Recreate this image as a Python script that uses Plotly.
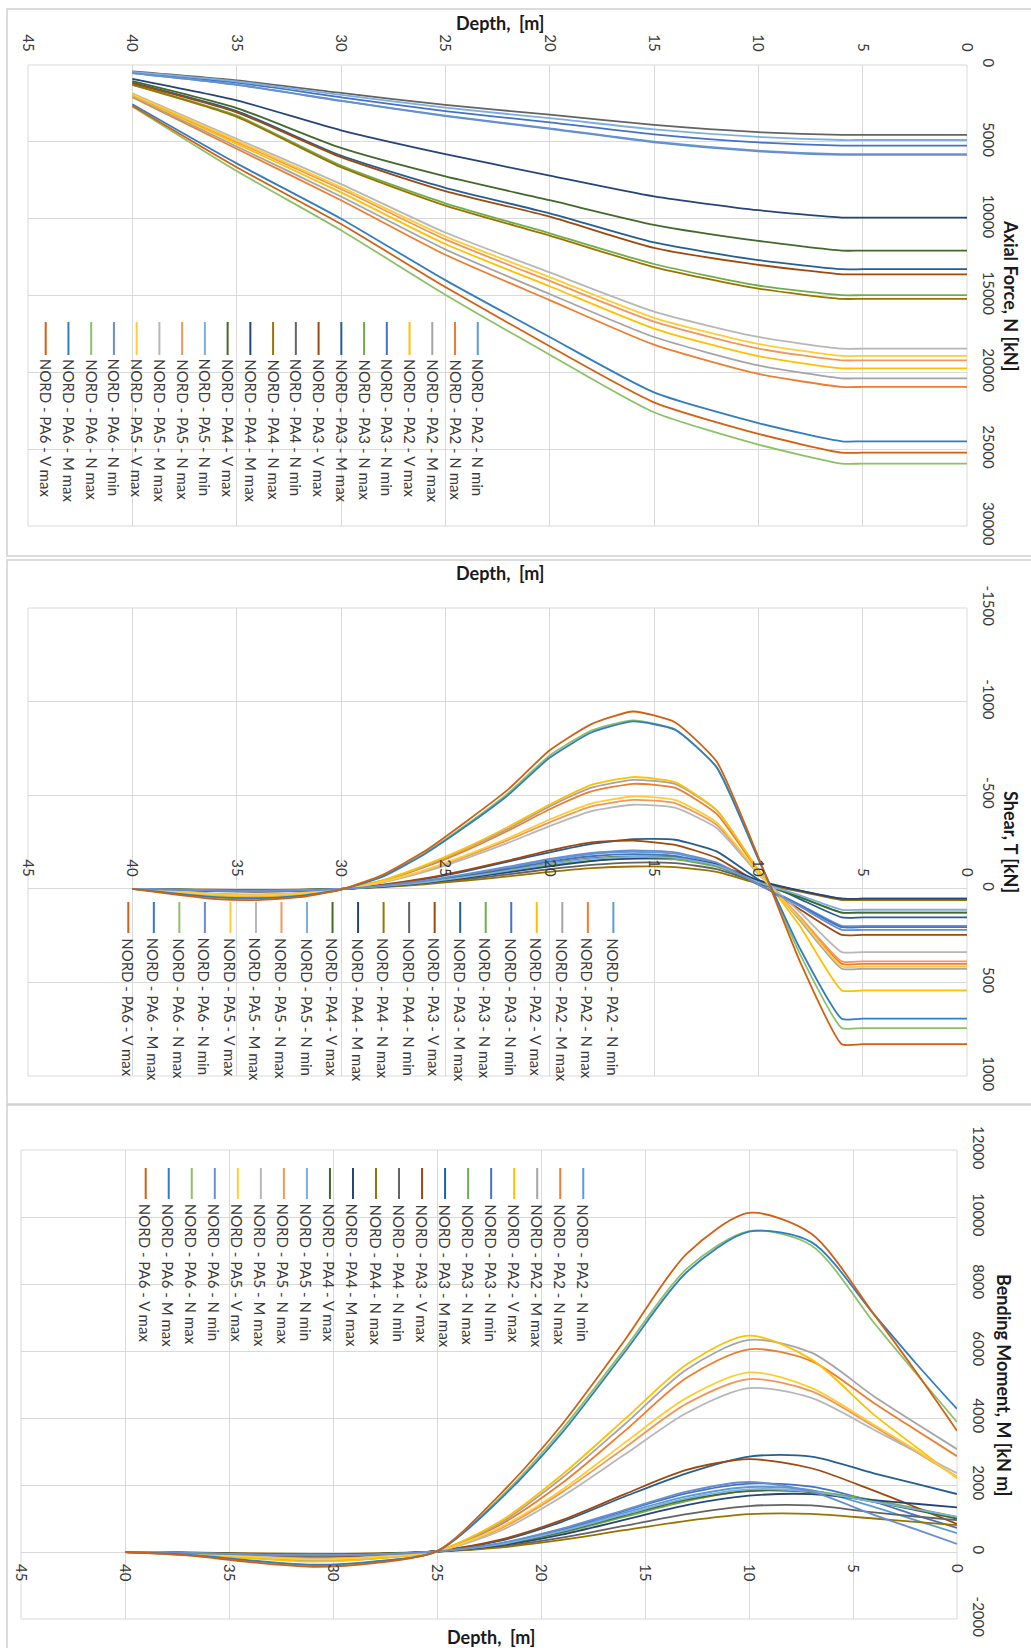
import plotly.graph_objects as go

W, H = 1031, 1648

# ---------------------------------------------------------------- series
SERIES = [
    "NORD - PA2 - N min", "NORD - PA2 - N max", "NORD - PA2 - M max", "NORD - PA2 - V max",
    "NORD - PA3 - N min", "NORD - PA3 - N max", "NORD - PA3 - M max", "NORD - PA3 - V max",
    "NORD - PA4 - N min", "NORD - PA4 - N max", "NORD - PA4 - M max", "NORD - PA4 - V max",
    "NORD - PA5 - N min", "NORD - PA5 - N max", "NORD - PA5 - M max", "NORD - PA5 - V max",
    "NORD - PA6 - N min", "NORD - PA6 - N max", "NORD - PA6 - M max", "NORD - PA6 - V max",
]
COLORS = [
    "#5B9BD5", "#ED7D31", "#A5A5A5", "#FFC000", "#4472C4", "#70AD47", "#255E91", "#9E480E",
    "#636363", "#997300", "#264478", "#43682B", "#7CAFDD", "#F1975A", "#B7B7B7", "#FFCD33",
    "#698ED0", "#8CC168", "#327DC2", "#D26012",
]

# ---------------------------------------------------------------- axial force N [kN]
AX_DEPTH = [40, 35, 30, 25, 20, 15, 10, 6, 5, 0]
AX_PA2_NMIN = [520, 1280, 2320, 3300, 4120, 4990, 5570, 5800, 5800, 5800]
AX_PA2_NMAX = [2100, 5450, 8800, 12350, 15300, 18200, 20100, 20950, 20950, 20950]
AX_PA2_MMAX = [2040, 5300, 8560, 12000, 14900, 17700, 19550, 20390, 20390, 20390]
AX_PA2_VMAX = [1970, 5130, 8290, 11650, 14400, 17150, 18950, 19740, 19740, 19740]
AX_PA3_NMIN = [480, 1150, 2100, 3000, 3730, 4510, 5040, 5250, 5250, 5250]
AX_PA3_NMAX = [1280, 3300, 6550, 9000, 10950, 12950, 14350, 14980, 14980, 14980]
AX_PA3_MMAX = [1150, 3000, 5900, 8000, 9650, 11550, 12700, 13290, 13290, 13290]
AX_PA3_VMAX = [1200, 3080, 6000, 8200, 9870, 11900, 13000, 13620, 13620, 13620]
AX_PA4_NMIN = [420, 1000, 1820, 2600, 3230, 3900, 4370, 4550, 4550, 4550]
AX_PA4_NMAX = [1300, 3380, 6650, 9150, 11100, 13150, 14550, 15220, 15220, 15220]
AX_PA4_MMAX = [900, 2300, 4250, 5800, 7200, 8550, 9450, 9930, 9930, 9930]
AX_PA4_VMAX = [1050, 2800, 5400, 7250, 8800, 10400, 11450, 12080, 12080, 12080]
AX_PA5_NMIN = [450, 1070, 1950, 2780, 3460, 4190, 4680, 4880, 4880, 4880]
AX_PA5_NMAX = [1920, 5000, 8070, 11350, 14050, 16700, 18450, 19220, 19220, 19220]
AX_PA5_MMAX = [1850, 4800, 7750, 10900, 13500, 16050, 17700, 18460, 18460, 18460]
AX_PA5_VMAX = [1900, 4920, 7950, 11150, 13800, 16450, 18150, 18930, 18930, 18930]
AX_PA6_NMIN = [530, 1290, 2340, 3330, 4150, 5030, 5620, 5850, 5850, 5850]
AX_PA6_NMAX = [2700, 6900, 10750, 14950, 18850, 22600, 24700, 25940, 25940, 25940]
AX_PA6_MMAX = [2550, 6400, 10000, 14000, 17700, 21300, 23300, 24490, 24490, 24490]
AX_PA6_VMAX = [2650, 6650, 10350, 14450, 18300, 21950, 24000, 25230, 25230, 25230]

# ---------------------------------------------------------------- shear T [kN]
SH_DEPTH = [40, 38, 36, 34, 32, 30, 28, 26, 24, 22, 20, 18, 16, 14, 12, 10, 8, 6, 5, 0]
SH_PA2_NMIN = [0, 5, 10, 12, 9, 1, -16, -41, -75, -113, -155, -186, -198, -188, -135, -25, 85, 198, 198, 198]
SH_PA2_NMAX = [0, 18, 34, 40, 28, 3, -42, -115, -205, -310, -425, -520, -561, -540, -400, -95, 160, 401, 401, 401]
SH_PA2_MMAX = [0, 18, 34, 40, 28, 3, -45, -120, -215, -320, -440, -540, -582, -560, -420, -100, 170, 427, 427, 427]
SH_PA2_VMAX = [0, 20, 38, 45, 32, 3, -45, -125, -220, -330, -450, -555, -597, -570, -420, -100, 200, 543, 543, 543]
SH_PA3_NMIN = [0, 5, 9, 11, 8, 1, -15, -38, -70, -106, -145, -174, -185, -176, -127, -22, 88, 205, 205, 205]
SH_PA3_NMAX = [0, 4, 8, 10, 7, 1, -13, -33, -60, -92, -125, -151, -160, -157, -118, -30, 45, 127, 127, 127]
SH_PA3_MMAX = [0, 6, 12, 15, 11, 1, -20, -52, -95, -145, -195, -240, -265, -262, -200, -50, 55, 153, 153, 153]
SH_PA3_VMAX = [0, 6, 12, 15, 11, 1, -22, -55, -100, -150, -205, -248, -257, -235, -165, -30, 110, 246, 246, 246]
SH_PA4_NMIN = [0, 3, 6, 8, 6, 1, -11, -28, -51, -77, -105, -128, -140, -137, -105, -35, 10, 53, 53, 53]
SH_PA4_NMAX = [0, 3, 5, 6, 5, 1, -9, -24, -44, -66, -90, -110, -119, -116, -90, -28, 15, 60, 60, 60]
SH_PA4_MMAX = [0, 4, 7, 9, 6, 1, -12, -32, -58, -88, -120, -148, -162, -165, -130, -45, 10, 53, 53, 53]
SH_PA4_VMAX = [0, 4, 8, 10, 7, 1, -14, -36, -66, -99, -135, -163, -173, -168, -125, -32, 45, 127, 127, 127]
SH_PA5_NMIN = [0, 4, 8, 10, 7, 1, -14, -35, -64, -97, -133, -160, -170, -165, -125, -35, 35, 112, 112, 112]
SH_PA5_NMAX = [0, 15, 30, 35, 25, 2, -36, -96, -173, -260, -355, -440, -475, -458, -342, -82, 150, 388, 388, 388]
SH_PA5_MMAX = [0, 13, 26, 30, 22, 2, -34, -90, -163, -245, -335, -415, -449, -433, -325, -78, 125, 338, 338, 338]
SH_PA5_VMAX = [0, 15, 30, 35, 25, 2, -38, -100, -180, -270, -370, -455, -493, -475, -355, -85, 160, 415, 415, 415]
SH_PA6_NMIN = [0, 5, 10, 12, 9, 1, -17, -43, -78, -118, -160, -192, -205, -195, -140, -25, 95, 219, 219, 219]
SH_PA6_NMAX = [0, 26, 47, 52, 40, 4, -68, -190, -342, -510, -712, -845, -900, -852, -648, -158, 350, 744, 744, 744]
SH_PA6_MMAX = [0, 25, 45, 50, 38, 4, -65, -185, -335, -500, -700, -835, -894, -850, -650, -160, 320, 694, 694, 694]
SH_PA6_VMAX = [0, 30, 55, 60, 45, 5, -75, -200, -360, -530, -740, -880, -947, -890, -680, -170, 390, 830, 830, 830]

# ---------------------------------------------------------------- bending moment M [kN m]
BM_DEPTH = [40, 37, 34, 31, 28, 25, 22, 19, 16, 13, 10, 7, 4, 2, 0]
BM_PA2_NMIN = [0, -30, -70, -100, -70, 20, 240, 650, 1170, 1660, 1940, 1850, 1350, 950, 560]
BM_PA2_NMAX = [0, -50, -170, -270, -190, 25, 800, 2050, 3600, 5200, 6050, 5700, 4450, 3650, 2860]
BM_PA2_MMAX = [0, -50, -170, -270, -190, 25, 850, 2200, 3800, 5450, 6330, 5950, 4650, 3850, 3070]
BM_PA2_VMAX = [0, -60, -190, -290, -200, 30, 900, 2300, 3950, 5600, 6460, 5750, 4100, 3150, 2200]
BM_PA3_NMIN = [0, -30, -75, -105, -75, 20, 250, 680, 1230, 1750, 2040, 1950, 1500, 1100, 720]
BM_PA3_NMAX = [0, -25, -65, -90, -65, 15, 210, 570, 1050, 1520, 1830, 1820, 1550, 1300, 1050]
BM_PA3_MMAX = [0, -40, -100, -140, -100, 30, 330, 900, 1650, 2350, 2850, 2850, 2350, 2040, 1730]
BM_PA3_VMAX = [0, -40, -100, -140, -100, 30, 360, 950, 1720, 2450, 2770, 2500, 1830, 1340, 840]
BM_PA4_NMIN = [0, -20, -50, -70, -50, 10, 160, 430, 780, 1130, 1370, 1390, 1180, 1060, 950]
BM_PA4_NMAX = [0, -15, -40, -60, -40, 10, 130, 360, 650, 930, 1130, 1140, 1000, 900, 800]
BM_PA4_MMAX = [0, -25, -60, -85, -60, 15, 190, 520, 960, 1400, 1680, 1730, 1550, 1440, 1330]
BM_PA4_VMAX = [0, -25, -65, -90, -65, 15, 220, 600, 1090, 1560, 1820, 1780, 1500, 1250, 1000]
BM_PA5_NMIN = [0, -30, -70, -95, -70, 20, 230, 620, 1120, 1600, 1870, 1800, 1500, 1280, 1050]
BM_PA5_NMAX = [0, -40, -130, -210, -150, 20, 680, 1780, 3100, 4430, 5160, 4800, 3750, 3000, 2250]
BM_PA5_MMAX = [0, -40, -120, -200, -140, 20, 620, 1650, 2900, 4150, 4890, 4600, 3650, 3000, 2350]
BM_PA5_VMAX = [0, -40, -140, -220, -150, 20, 720, 1850, 3250, 4600, 5360, 4900, 3800, 3050, 2230]
BM_PA6_NMIN = [0, -30, -80, -110, -80, 20, 260, 700, 1250, 1800, 2090, 1800, 1110, 680, 240]
BM_PA6_NMAX = [0, -90, -270, -400, -300, 25, 1600, 3650, 6050, 8450, 9580, 9150, 6850, 5350, 3880]
BM_PA6_MMAX = [0, -80, -250, -380, -280, 20, 1550, 3550, 5950, 8350, 9560, 9250, 7100, 5650, 4270]
BM_PA6_VMAX = [0, -100, -300, -440, -330, 30, 1700, 3800, 6300, 8900, 10120, 9500, 7100, 5400, 3620]

# ---------------------------------------------------------------- tick labels
DEPTH_TICKS = [0, 5, 10, 15, 20, 25, 30, 35, 40, 45]
AX_TICKS = [0, 5000, 10000, 15000, 20000, 25000, 30000]
SH_TICKS = [-1500, -1000, -500, 0, 500, 1000]
BM_TICKS = [-2000, 0, 2000, 4000, 6000, 8000, 10000, 12000]

AXIAL = [AX_PA2_NMIN, AX_PA2_NMAX, AX_PA2_MMAX, AX_PA2_VMAX, AX_PA3_NMIN, AX_PA3_NMAX, AX_PA3_MMAX,
         AX_PA3_VMAX, AX_PA4_NMIN, AX_PA4_NMAX, AX_PA4_MMAX, AX_PA4_VMAX, AX_PA5_NMIN, AX_PA5_NMAX,
         AX_PA5_MMAX, AX_PA5_VMAX, AX_PA6_NMIN, AX_PA6_NMAX, AX_PA6_MMAX, AX_PA6_VMAX]
SHEAR = [SH_PA2_NMIN, SH_PA2_NMAX, SH_PA2_MMAX, SH_PA2_VMAX, SH_PA3_NMIN, SH_PA3_NMAX, SH_PA3_MMAX,
         SH_PA3_VMAX, SH_PA4_NMIN, SH_PA4_NMAX, SH_PA4_MMAX, SH_PA4_VMAX, SH_PA5_NMIN, SH_PA5_NMAX,
         SH_PA5_MMAX, SH_PA5_VMAX, SH_PA6_NMIN, SH_PA6_NMAX, SH_PA6_MMAX, SH_PA6_VMAX]
MOMENT = [BM_PA2_NMIN, BM_PA2_NMAX, BM_PA2_MMAX, BM_PA2_VMAX, BM_PA3_NMIN, BM_PA3_NMAX, BM_PA3_MMAX,
          BM_PA3_VMAX, BM_PA4_NMIN, BM_PA4_NMAX, BM_PA4_MMAX, BM_PA4_VMAX, BM_PA5_NMIN, BM_PA5_NMAX,
          BM_PA5_MMAX, BM_PA5_VMAX, BM_PA6_NMIN, BM_PA6_NMAX, BM_PA6_MMAX, BM_PA6_VMAX]

# ---------------------------------------------------------------- layout (pixels)
FONT = "Lato"
GRID = "#D9D9D9"
TXT = "#3a3a3a"

# plot boxes: left, right, top, bottom
BOX1 = (28, 967, 65, 526)
BOX2 = (28, 967, 608, 1076)
BOX3 = (21, 957, 1150, 1619)


def px(x):
    return x / W


def py(y):
    return 1 - y / H


def xdom(b):
    return [px(b[0]), px(b[1])]


def ydom(b):
    return [py(b[3]), py(b[2])]


fig = go.Figure()

panels = [
    (AX_DEPTH, AXIAL, "x", "y", 0.6),
    (SH_DEPTH, SHEAR, "x2", "y2", 0.5),
    (BM_DEPTH, MOMENT, "x3", "y3", 0.8),
]
for depth, block, xa, ya, smooth in panels:
    for name, color, vals in zip(SERIES, COLORS, block):
        fig.add_trace(go.Scatter(
            x=depth, y=vals, name=name, mode="lines", xaxis=xa, yaxis=ya,
            line=dict(color=color, width=1.8, shape="spline", smoothing=smooth),
            showlegend=False, hoverinfo="skip",
        ))

tickfont = dict(family=FONT, size=15, color=TXT)


def depth_axis(box, **kw):
    d = dict(domain=xdom(box), range=[45, 0], tickvals=DEPTH_TICKS,
             ticktext=[str(v) for v in DEPTH_TICKS], tickangle=90, showgrid=True,
             gridcolor=GRID, gridwidth=1, zeroline=False, showline=False, ticks="",
             tickfont=tickfont, ticklabelstandoff=10, automargin=False, fixedrange=True)
    d.update(kw)
    return d


def value_axis(box, rng, ticks, anchor):
    return dict(domain=ydom(box), range=rng, tickvals=ticks, ticktext=[str(v) for v in ticks],
                tickangle=90, side="right", anchor=anchor, showgrid=True, gridcolor=GRID,
                gridwidth=1, zeroline=False, showline=False, ticks="", tickfont=tickfont,
                ticklabelstandoff=12, automargin=False, fixedrange=True)


fig.update_layout(
    width=W, height=H, margin=dict(l=0, r=0, t=0, b=0, autoexpand=False),
    paper_bgcolor="white", plot_bgcolor="white", showlegend=False,
    font=dict(family=FONT, color=TXT),
    xaxis=depth_axis(BOX1, anchor="y", side="top"),
    yaxis=value_axis(BOX1, [30000, 0], AX_TICKS, "x"),
    xaxis2=depth_axis(BOX2, anchor="free", side="top", position=py(889)),
    yaxis2=value_axis(BOX2, [1000, -1500], SH_TICKS, "x2"),
    xaxis3=depth_axis(BOX3, anchor="free", side="bottom", position=py(1553)),
    yaxis3=value_axis(BOX3, [-2000, 12000], BM_TICKS, "x3"),
)

shapes = []
annotations = []

# chart-area frames
for y0, y1 in [(9, 556), (560, 1104), (1105, 1665)]:
    shapes.append(dict(type="rect", xref="paper", yref="paper", x0=px(7), x1=px(1040),
                       y0=py(y1), y1=py(y0), line=dict(color="#D0D0D0", width=1.5)))

# plot-area boxes
for xa in ["x", "x2", "x3"]:
    ya = xa.replace("x", "y")
    shapes.append(dict(type="rect", xref=f"{xa} domain", yref=f"{ya} domain", x0=0, x1=1,
                       y0=0, y1=1, line=dict(color=GRID, width=1), layer="below"))

# axis titles
title_font = dict(family=FONT, size=18, color="#1a1a1a")
for cx, cy in [(500, 23), (500, 573), (491, 1637)]:
    annotations.append(dict(text="<b>Depth,\u00a0 [m]</b>", xref="paper", yref="paper",
                            x=px(cx), y=py(cy), showarrow=False, font=title_font,
                            xanchor="center", yanchor="middle"))
for text, cx, cy in [("Axial Force, N [kN]", 1011, 295),
                     ("Shear, T [kN]", 1011, 842),
                     ("Bending Moment, M [kN m]", 1004, 1385)]:
    annotations.append(dict(text=f"<b>{text}</b>", xref="paper", yref="paper",
                            x=px(cx), y=py(cy), showarrow=False, font=title_font,
                            textangle=90, xanchor="center", yanchor="middle"))

# legends: one column per series, rotated text
LEGENDS = [
    dict(first=45.7, step=22.74, l0=322, l1=355, t=358),
    dict(first=128.3, step=25.53, l0=902, l1=933, t=937),
    dict(first=145.7, step=23.03, l0=1168, l1=1199, t=1203),
]
leg_font = dict(family=FONT, size=15, color=TXT)
for lg in LEGENDS:
    n = len(SERIES)
    for i, (name, color) in enumerate(zip(SERIES, COLORS)):
        x = lg["first"] + (n - 1 - i) * lg["step"]
        shapes.append(dict(type="line", xref="paper", yref="paper", x0=px(x), x1=px(x),
                           y0=py(lg["l0"]), y1=py(lg["l1"]), line=dict(color=color, width=2)))
        annotations.append(dict(text=name, xref="paper", yref="paper", x=px(x), y=py(lg["t"]),
                                showarrow=False, font=leg_font, textangle=90,
                                xanchor="center", yanchor="top", borderpad=0))

fig.update_layout(shapes=shapes, annotations=annotations)
fig.write_html("out.html")
